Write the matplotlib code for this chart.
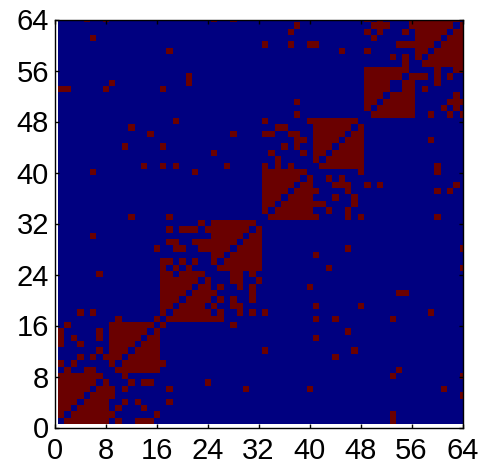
import numpy as np
import matplotlib
matplotlib.use('Agg')
import matplotlib.pyplot as plt
from matplotlib.colors import ListedColormap

# Upper triangle of the symmetric matrix: row number -> filled columns above the diagonal
block_1 = {
    1: '2-8 10 13-15 53', 2: '3-9 16 53', 3: '4-8 10 14', 4: '5-8 11 13 18',
    5: '6-9 64', 6: '7-9 11 18 30 40 61', 7: '8 12 14 15 24', 8: '11 53 64',
    9: '10-16 54', 10: '11-17', 11: '12-16 44', 12: '13-16 33 47',
    13: '14-16', 14: '15 16 41', 15: '16 46', 16: '17 28',
}
block_2 = {
    17: '18-26 41 44 53', 18: '19-24 26 29 31 33 59', 19: '20-23 25 28 29 41 48',
    20: '21-24 26 28 31', 21: '22-25 31 54 55', 22: '23 24 26 29 31 40',
    23: '24 28 29 32', 24: '28 29 31', 25: '26-32 43 64', 26: '27-32',
    27: '28-32 41', 28: '29-32 46 64', 29: '30-32', 30: '31 32', 31: '32',
}
block_3 = {
    33: '34-41 46 48 60', 34: '35-40 43 46', 35: '36-42 47', 36: '37-40 44 47',
    37: '38-41 46 60 62', 38: '39 40 44-46 49 51 63', 39: '40 43 45', 40: '48 60',
    41: '42-48 60', 42: '43-48', 43: '44-48', 44: '45-48', 45: '46-48 59',
    46: '47 48', 47: '48',
}
block_4 = {
    49: '50-56 59 62 64', 50: '51-56 61 63', 51: '52-56 62-64', 52: '53-56 63',
    53: '55 56 58', 54: '55 56 60', 55: '56-58 60 62', 56: '60 63 64',
    57: '58-64', 58: '59-64', 59: '60-64', 60: '61-64', 61: '62-64', 62: '63 64', 63: '64',
}
tick_values = [0, 8, 16, 24, 32, 40, 48, 56, 64]


def parse_cols(text):
    cols = []
    for part in text.split():
        if '-' in part:
            a, b = part.split('-')
            cols.extend(range(int(a), int(b) + 1))
        else:
            cols.append(int(part))
    return cols


n = 64
matrix = np.zeros((n, n))
for block in [block_1, block_2, block_3, block_4]:
    for row, text in block.items():
        for col in parse_cols(text):
            matrix[row - 1, col - 1] = 1
            matrix[col - 1, row - 1] = 1

plt.rcParams['font.family'] = ['Liberation Sans', 'DejaVu Sans']

w, h = 490, 468
fig = plt.figure(figsize=(w / 100, h / 100), dpi=100)
ax = fig.add_axes([54.5 / w, 1 - 427.5 / h, 408 / w, 408 / h])

cmap = ListedColormap(['#000080', '#6a0000'])
ax.imshow(matrix, cmap=cmap, origin='lower', interpolation='nearest',
          extent=(0.5, 64.5, 0.5, 64.5), aspect='auto', vmin=0, vmax=1)
ax.set_xlim(0, 64)
ax.set_ylim(0, 64)
ax.set_xticks(tick_values)
ax.set_yticks(tick_values)
ax.tick_params(direction='in', length=3, width=1, labelsize=21, top=True, right=True)
ax.tick_params(axis='x', pad=7)
ax.tick_params(axis='y', pad=4)
for spine in ax.spines.values():
    spine.set_linewidth(1)

fig.savefig('out.png', dpi=100)
